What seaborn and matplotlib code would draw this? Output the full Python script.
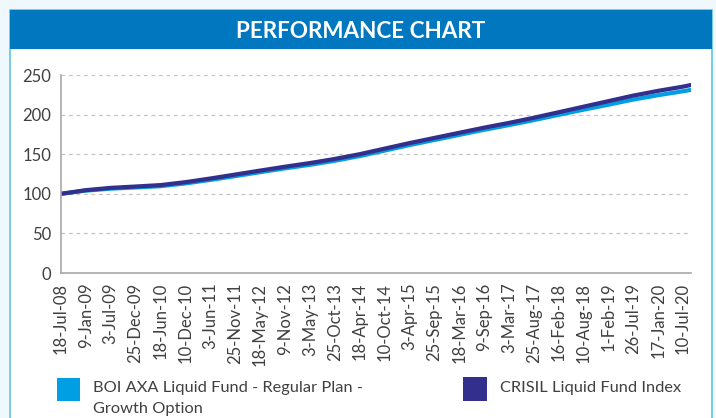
import pandas as pd
import numpy as np
import matplotlib
matplotlib.use("Agg")
import matplotlib.pyplot as plt
from matplotlib.patches import Rectangle
import seaborn as sns

# data (value of 100 invested on 18-Jul-08)
tick_labels = ['18-Jul-08', '9-Jan-09', '3-Jul-09', '25-Dec-09', '18-Jun-10', '10-Dec-10',
               '3-Jun-11', '25-Nov-11', '18-May-12', '9-Nov-12', '3-May-13', '25-Oct-13',
               '18-Apr-14', '10-Oct-14', '3-Apr-15', '25-Sep-15', '18-Mar-16', '9-Sep-16',
               '3-Mar-17', '25-Aug-17', '16-Feb-18', '10-Aug-18', '1-Feb-19', '26-Jul-19',
               '17-Jan-20', '10-Jul-20']
last_date = '4-Sep-20'
fund_values = [100, 104.0, 106.5, 108.0, 109.6, 113.1, 117.5, 122.3, 127.3, 132.1, 136.6,
               141.7, 147.6, 154.5, 161.5, 167.9, 174.4, 180.8, 186.7, 193.0, 199.7, 206.2,
               212.5, 219.0, 224.5, 229.5, 231.2]
index_values = [100, 104.6, 107.5, 109.2, 111, 114.7, 119.3, 124.3, 129.3, 134.2, 138.8,
                144, 150, 157, 164, 170.5, 177, 183.5, 189.5, 196, 203, 210, 217, 224,
                230, 235.3, 237.4]
fund_name = 'BOI AXA Liquid Fund - Regular Plan -\nGrowth Option'
index_name = 'CRISIL Liquid Fund Index'

tick_dates = pd.to_datetime(tick_labels, format='%d-%b-%y')
dates = list(tick_dates) + [pd.to_datetime(last_date, format='%d-%b-%y')]

df = pd.concat([
    pd.DataFrame({'Date': dates, 'Value': fund_values, 'Series': fund_name}),
    pd.DataFrame({'Date': dates, 'Value': index_values, 'Series': index_name}),
])

sns.set_theme(style='white')
plt.rcParams['font.family'] = ['Lato', 'DejaVu Sans']

fund_col = '#009fe3'
index_col = '#332f8c'
bg = '#eff8fc'
border = '#5fc6dc'
title_col = '#0077be'

W, H = 716, 418
fig = plt.figure(figsize=(W / 100, H / 100), dpi=100, facecolor=bg)

def px_rect(x0, y0, x1, y1, z, **kw):
    fig.patches.append(Rectangle((x0 / W, 1 - y1 / H), (x1 - x0) / W, (y1 - y0) / H,
                                 transform=fig.transFigure, figure=fig, zorder=z, **kw))

# white panel and blue title bar
px_rect(10, 10, 712, 420, -2, facecolor='white', edgecolor=border, linewidth=1.2)
px_rect(10, 10, 712, 49, -1, facecolor=title_col, edgecolor='none')
fig.text(361 / W, 1 - 31 / H, 'PERFORMANCE CHART', color='white', fontsize=16.2,
         fontweight='bold', ha='center', va='center')

ax = fig.add_axes([61 / W, 1 - 273 / H, (691 - 61) / W, (273 - 75) / H], zorder=1)
ax.set_facecolor('white')
sns.lineplot(data=df, x='Date', y='Value', hue='Series', palette=[fund_col, index_col],
             linewidth=3, ax=ax, legend=False)

ax.set_ylim(0, 250)
ax.set_yticks(range(0, 251, 50))
ax.set_xlim(dates[0], dates[-1])
ax.set_xticks(tick_dates)
ax.set_xticklabels(tick_labels, rotation=90)
ax.set_xlabel('')
ax.set_ylabel('')
ax.yaxis.grid(True, color='#c4c4c4', linestyle=(0, (3, 3)), linewidth=0.9)
ax.xaxis.grid(False)
for s in ['top', 'right']:
    ax.spines[s].set_visible(False)
for s in ['left', 'bottom']:
    ax.spines[s].set_color('#a8a8a8')
    ax.spines[s].set_linewidth(1.2)
ax.tick_params(axis='both', which='major', direction='out', length=4, width=1,
               color='#a8a8a8', labelsize=12, labelcolor='#404040', pad=3)

# legend
px_rect(57, 378, 80, 401, 0, facecolor=fund_col, edgecolor='none')
px_rect(463, 377, 487, 401, 0, facecolor=index_col, edgecolor='none')
fig.text(93 / W, 1 - 381 / H, fund_name, fontsize=11.8, color='#404040', va='top',
         linespacing=1.65)
fig.text(500 / W, 1 - 381 / H, index_name, fontsize=11.8, color='#404040', va='top')

fig.savefig('out.png', dpi=100, facecolor=bg)
